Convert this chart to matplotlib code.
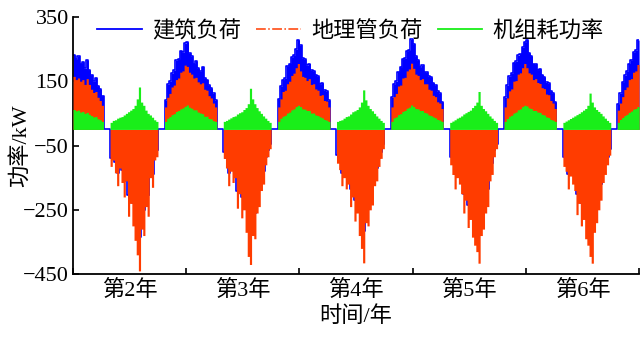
import numpy as np
import matplotlib
matplotlib.use("Agg")
import matplotlib.pyplot as plt
from matplotlib.lines import Line2D

plt.rcParams['font.family'] = ['Liberation Serif', 'Noto Sans CJK SC']
plt.rcParams['axes.unicode_minus'] = True

# Weekly peak values (kW), 52 weeks per year, years 2-6
building_y2 = [232, 220, 228, 205, 210, 190, 215, 185, 170, 150, 160, 135, 125, 105,
               0, 0, 0,
               -90, -75, -100, -135, -95, -125, -160, -125, -205, -175, -230, -265, -300, -335,
               -240, -250, -185, -205, -115, -140, -70, -65,
               0, 0, 0,
               90, 140, 150, 175, 185, 215, 220, 245, 240, 268]
building_y3 = [272, 238, 228, 205, 212, 190, 182, 195, 160, 155, 138, 128, 112, 90,
               0, 0, 0,
               -70, -90, -135, -100, -125, -115, -190, -155, -210, -190, -245, -300, -320, -255,
               -260, -200, -185, -145, -130, -85, -65, -45,
               0, 0, 0,
               95, 135, 155, 160, 198, 205, 225, 232, 250, 278]
building_y4 = [262, 222, 218, 200, 205, 185, 182, 170, 165, 142, 145, 122, 118, 90,
               0, 0, 0,
               -80, -95, -135, -115, -140, -130, -185, -160, -220, -200, -255, -285, -315, -225,
               -230, -190, -180, -135, -120, -90, -70, -45,
               0, 0, 0,
               100, 142, 150, 180, 195, 220, 222, 245, 248, 280]
building_y5 = [266, 228, 215, 195, 200, 180, 178, 165, 162, 145, 138, 118, 112, 85,
               0, 0, 0,
               -85, -105, -140, -115, -130, -150, -200, -170, -235, -215, -255, -275, -290, -320,
               -255, -235, -200, -185, -120, -105, -65, -45,
               0, 0, 0,
               100, 138, 165, 175, 208, 212, 230, 236, 255, 272]
building_y6 = [278, 238, 228, 205, 204, 186, 188, 170, 163, 146, 143, 120, 112, 85,
               0, 0, 0,
               -85, -100, -140, -110, -130, -145, -200, -175, -230, -215, -260, -275, -300, -320,
               -245, -220, -190, -170, -125, -105, -85, -60,
               0, 0, 0,
               80, 112, 148, 168, 182, 205, 216, 240, 246, 278]

ground_y2 = [165, 155, 160, 150, 155, 140, 158, 140, 125, 115, 118, 100, 90, 75,
             0, 0, 0,
             -115, -95, -135, -175, -120, -165, -210, -160, -270, -230, -300, -345, -390, -440,
             -310, -330, -240, -270, -150, -180, -95, -85,
             0, 0, 0,
             70, 100, 112, 132, 138, 155, 160, 178, 182, 200]
ground_y3 = [196, 178, 172, 160, 162, 148, 142, 145, 125, 122, 105, 98, 82, 70,
             0, 0, 0,
             -90, -120, -175, -130, -165, -150, -245, -200, -275, -250, -320, -395, -420, -330,
             -340, -260, -240, -190, -170, -110, -85, -60,
             0, 0, 0,
             70, 95, 118, 122, 142, 150, 168, 175, 192, 205]
ground_y4 = [182, 165, 162, 152, 158, 140, 142, 126, 122, 106, 108, 90, 88, 70,
             0, 0, 0,
             -105, -125, -175, -150, -185, -170, -240, -210, -285, -260, -330, -370, -415, -290,
             -300, -250, -235, -175, -160, -115, -90, -60,
             0, 0, 0,
             70, 102, 112, 135, 138, 160, 162, 182, 188, 206]
ground_y5 = [190, 172, 168, 155, 158, 142, 142, 125, 122, 106, 102, 86, 82, 65,
             0, 0, 0,
             -110, -140, -185, -150, -170, -200, -260, -220, -305, -280, -335, -360, -380, -416,
             -330, -310, -260, -240, -160, -140, -85, -60,
             0, 0, 0,
             70, 98, 120, 126, 150, 152, 172, 176, 192, 205]
ground_y6 = [192, 176, 172, 155, 158, 146, 143, 130, 127, 110, 108, 90, 82, 65,
             0, 0, 0,
             -115, -130, -185, -145, -170, -190, -265, -230, -300, -280, -340, -360, -395, -416,
             -320, -290, -250, -220, -165, -140, -110, -80,
             0, 0, 0,
             60, 82, 102, 124, 132, 155, 158, 178, 182, 202]

unit_y2 = [62, 58, 60, 54, 56, 50, 53, 47, 43, 39, 40, 33, 30, 25,
           0, 0, 0,
           22, 28, 30, 35, 38, 40, 45, 50, 55, 60, 65, 75, 95, 132,
           85, 75, 60, 50, 45, 38, 30, 25,
           0, 0, 0,
           25, 35, 40, 46, 49, 56, 59, 64, 67, 72]
unit_y3 = [76, 69, 66, 61, 61, 54, 51, 49, 41, 41, 34, 33, 27, 25,
           0, 0, 0,
           25, 28, 32, 36, 40, 42, 48, 52, 55, 62, 68, 80, 128, 95,
           80, 68, 58, 50, 42, 35, 28, 22,
           0, 0, 0,
           25, 35, 41, 44, 51, 54, 61, 64, 71, 75]
unit_y4 = [71, 64, 63, 59, 59, 51, 51, 45, 43, 39, 36, 31, 29, 25,
           0, 0, 0,
           25, 28, 30, 35, 40, 42, 48, 55, 58, 62, 70, 85, 123, 92,
           75, 65, 58, 50, 42, 35, 28, 22,
           0, 0, 0,
           25, 36, 39, 46, 49, 56, 59, 66, 69, 76]
unit_y5 = [71, 65, 64, 59, 59, 53, 51, 45, 43, 39, 36, 31, 29, 25,
           0, 0, 0,
           22, 26, 30, 35, 38, 42, 48, 52, 56, 60, 68, 75, 85, 118,
           75, 65, 58, 50, 42, 35, 28, 22,
           0, 0, 0,
           25, 34, 41, 44, 51, 54, 61, 64, 71, 75]
unit_y6 = [73, 67, 65, 59, 59, 54, 53, 47, 45, 39, 37, 31, 29, 25,
           0, 0, 0,
           22, 26, 30, 34, 38, 42, 46, 50, 55, 60, 65, 75, 113, 85,
           70, 62, 56, 50, 42, 35, 28, 22,
           0, 0, 0,
           22, 31, 37, 43, 47, 53, 57, 63, 65, 71]

year_labels = ['第2年', '第3年', '第4年', '第5年', '第6年']
series_labels = ['建筑负荷', '地理管负荷', '机组耗功率']
colors = ['#0000FF', '#FF3C00', '#19EE19']

building = np.array(building_y2 + building_y3 + building_y4 + building_y5 + building_y6, float)
ground = np.array(ground_y2 + ground_y3 + ground_y4 + ground_y5 + ground_y6, float)
unit = np.array(unit_y2 + unit_y3 + unit_y4 + unit_y5 + unit_y6, float)

n_years = len(year_labels)
weeks = 52
t = 1 + np.arange(n_years * weeks + 1) / weeks


def stepped(v):
    return np.append(v, v[-1])


fig = plt.figure(figsize=(6.41, 3.38), dpi=100)
ax = fig.add_axes([0.114, 0.189, 0.883, 0.761])

ax.fill_between(t, 0, stepped(building), step='post', color=colors[0], lw=0, zorder=2)
ax.step(t, stepped(building), where='post', color=colors[0], lw=1.2, zorder=2)
ax.fill_between(t, 0, stepped(ground), step='post', color=colors[1], lw=0, zorder=3)
ax.fill_between(t, 0, stepped(unit), step='post', color=colors[2], lw=0, zorder=4)

ax.set_xlim(1, 1 + n_years)
ax.set_ylim(-450, 350)
ax.set_yticks([-450, -250, -50, 150, 350])
ax.set_xticks(np.arange(1, n_years + 2))
ax.set_xticklabels([])
ax.set_xticks(np.arange(n_years) + 1.5, minor=True)
ax.set_xticklabels(year_labels, minor=True)

ax.spines['top'].set_visible(False)
ax.spines['right'].set_visible(False)
for s in ('left', 'bottom'):
    ax.spines[s].set_linewidth(1.3)
ax.tick_params(axis='both', which='major', direction='in', length=4, width=1.2,
               labelsize=16, pad=3)
ax.tick_params(axis='x', which='minor', length=0, labelsize=16, pad=4)

ax.set_xlabel('时间/年', fontsize=16, labelpad=4)
ax.set_ylabel('功率/kW', fontsize=16, labelpad=-6)

handles = [Line2D([], [], color=colors[0], lw=1.3),
           Line2D([], [], color=colors[1], lw=1.1, ls='-.'),
           Line2D([], [], color=colors[2], lw=1.3)]
ax.legend(handles, series_labels, loc='upper center', ncol=3, frameon=False,
          fontsize=16, handlelength=2.0, handletextpad=0.45, columnspacing=0.7,
          bbox_to_anchor=(0.49, 1.02), borderaxespad=0)

fig.savefig('out.png', dpi=100)
